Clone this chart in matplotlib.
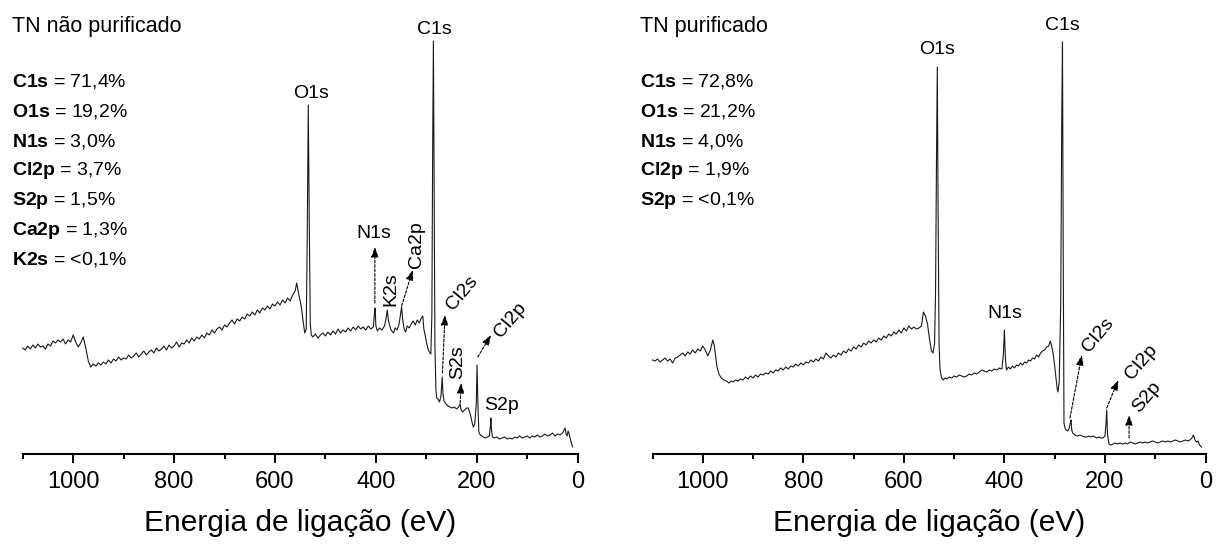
import matplotlib
matplotlib.use('Agg')
import matplotlib.pyplot as plt
from matplotlib.ticker import MultipleLocator

plt.rcParams['font.family'] = ['Liberation Sans', 'DejaVu Sans']
plt.rcParams['mathtext.fontset'] = 'custom'
plt.rcParams['mathtext.rm'] = 'Liberation Sans'
plt.rcParams['mathtext.bf'] = 'Liberation Sans:bold'

# ---------------- data (binding energy in eV, intensity in a.u.) ----------------
left_energy = [
    1100, 1095, 1090, 1085, 1080, 1075, 1070, 1065, 1060, 1055,
    1050, 1045, 1040, 1035, 1030, 1025, 1020, 1015, 1010, 1005,
    1000, 995, 990, 985, 980, 975, 970, 965, 960, 955,
    950, 945, 940, 935, 930, 925, 920, 915, 910, 905,
    900, 895, 890, 885, 880, 875, 870, 865, 860, 855,
    850, 845, 840, 835, 830, 825, 820, 815, 810, 805,
    800, 795, 790, 785, 780, 775, 770, 765, 760, 755,
    750, 745, 740, 735, 730, 725, 720, 715, 710, 705,
    700, 695, 690, 685, 680, 675, 670, 665, 660, 655,
    650, 645, 640, 635, 630, 625, 620, 615, 610, 605,
    600, 595, 590, 585, 580, 575, 570, 565, 560, 557,
    553, 548, 544, 541, 538, 536, 534, 532, 530, 528,
    525, 520, 515, 510, 505, 500, 495, 490, 485, 480,
    475, 470, 465, 460, 455, 450, 445, 440, 435, 430,
    425, 420, 415, 410, 405, 403, 401.5, 400, 397, 393,
    388, 383, 380, 377.5, 375, 370, 365, 362, 358, 354,
    351, 349, 347, 344, 341, 338, 334, 330, 326, 322,
    318, 314, 310, 307, 305, 302, 299, 296, 293, 291,
    289, 287.5, 286, 284.5, 283, 281, 279.5, 277, 274, 271,
    269.5, 268.5, 267, 265, 261, 257, 253, 249, 245, 240,
    236, 233, 231, 228, 224, 220, 217, 213, 210, 207,
    204, 201, 199.5, 198, 196, 193, 190, 187, 183, 179,
    175, 173, 172, 171, 169, 165, 160, 155, 150, 145,
    140, 135, 130, 125, 120, 115, 110, 105, 100, 95,
    90, 85, 80, 75, 70, 65, 60, 55, 50, 45,
    40, 35, 30, 27, 25, 23, 21, 19, 17, 14,
    12, 10,
]
left_intensity = [
    106, 104, 108, 105, 109, 106, 110, 107, 108, 105,
    110, 108, 113, 111, 114, 112, 115, 110, 114, 112,
    119, 112, 107, 111, 117, 106, 93, 87, 90, 88,
    91, 89, 92, 90, 94, 91, 95, 93, 97, 94,
    96, 95, 99, 96, 98, 101, 97, 100, 103, 99,
    102, 104, 101, 106, 103, 105, 108, 104, 109, 106,
    108, 112, 107, 111, 110, 114, 111, 116, 113, 117,
    115, 119, 116, 121, 119, 124, 121, 125, 127, 124,
    129, 127, 131, 134, 130, 135, 133, 137, 135, 140,
    138, 142, 139, 144, 141, 146, 144, 148, 145, 150,
    148, 152, 149, 154, 151, 156, 153, 159, 163, 171,
    160, 148, 132, 121, 125, 220, 349, 230, 130, 119,
    117, 120, 116, 119, 121, 118, 122, 119, 123, 120,
    125, 121, 124, 122, 126, 123, 127, 124, 128, 125,
    127, 124, 128, 125, 127, 140, 146, 128, 123, 126,
    124, 128, 135, 144, 133, 124, 121, 126, 124, 130,
    140, 147, 135, 125, 122, 128, 126, 130, 133, 129,
    134, 131, 136, 138, 125, 118, 110, 104, 101, 100,
    140, 300, 413, 250, 110, 64, 56, 55, 52, 58,
    70, 77, 60, 53, 50, 48, 47, 46, 47, 45,
    47, 50, 44, 42, 44, 46, 46, 40, 33, 27,
    30, 50, 89, 55, 22, 19, 18, 17, 16, 17,
    18, 28, 36, 25, 17, 16, 17, 15, 16, 17,
    15, 16, 15, 17, 16, 18, 16, 17, 18, 16,
    18, 17, 19, 17, 18, 20, 18, 19, 21, 18,
    20, 19, 21, 24, 26, 20, 18, 23, 20, 14,
    10, 7,
]

right_energy = [
    1100, 1095, 1090, 1085, 1080, 1075, 1070, 1065, 1060, 1055,
    1050, 1045, 1040, 1035, 1030, 1025, 1020, 1015, 1010, 1005,
    1000, 995, 990, 985, 980, 977, 972, 968, 963, 958,
    953, 948, 943, 940, 935, 930, 925, 920, 915, 910,
    905, 900, 895, 890, 885, 880, 875, 870, 865, 860,
    855, 850, 845, 840, 835, 830, 825, 820, 815, 810,
    805, 800, 795, 790, 785, 780, 775, 770, 765, 760,
    755, 750, 745, 740, 735, 730, 725, 720, 715, 710,
    705, 700, 695, 690, 685, 680, 675, 670, 665, 660,
    655, 650, 645, 640, 635, 630, 625, 620, 615, 610,
    605, 600, 595, 590, 585, 580, 575, 570, 565, 561,
    557, 553, 549, 545, 542, 539, 537, 535, 533.5, 532,
    530, 528, 525, 522, 518, 514, 510, 505, 500, 495,
    490, 485, 480, 475, 470, 465, 460, 455, 450, 445,
    440, 435, 430, 425, 420, 415, 410, 405, 402, 400,
    398, 396, 392, 388, 384, 380, 376, 372, 368, 364,
    360, 356, 352, 348, 344, 340, 336, 332, 328, 324,
    320, 316, 312, 309, 306, 303, 300, 297, 295, 293.5,
    291, 288, 286, 284.5, 283, 281.5, 279, 277, 274, 271,
    269, 267.5, 266, 264, 260, 255, 250, 245, 240, 236,
    232, 228, 224, 220, 216, 212, 208, 204, 200, 198,
    196.5, 195, 192, 188, 184, 180, 175, 170, 165, 160,
    155, 150, 145, 140, 135, 130, 125, 120, 115, 110,
    105, 100, 95, 90, 85, 80, 75, 70, 65, 60,
    55, 50, 45, 40, 35, 31, 27, 24, 21, 18,
    15, 12, 8,
]
right_intensity = [
    94, 93, 95, 92, 94, 96, 93, 95, 91, 96,
    97, 99, 101, 98, 102, 100, 104, 101, 105, 103,
    108, 104, 98, 104, 114, 108, 88, 80, 76, 74,
    73, 71, 73, 72, 74, 73, 75, 74, 77, 75,
    78, 76, 79, 77, 80, 79, 81, 80, 83, 81,
    84, 83, 86, 84, 87, 85, 88, 87, 90, 88,
    91, 89, 92, 91, 94, 92, 95, 93, 97, 95,
    101, 98, 96, 99, 97, 101, 99, 103, 101, 105,
    103, 107, 105, 109, 107, 111, 109, 113, 111, 114,
    112, 116, 114, 118, 116, 120, 118, 122, 120, 124,
    121, 126, 123, 128, 125, 127, 125, 126, 128, 142,
    138, 130, 115, 103, 101, 110, 160, 300, 387, 250,
    110, 84, 76, 74, 76, 75, 77, 76, 78, 77,
    79, 78, 77, 78, 80, 79, 81, 80, 82, 84,
    83, 82, 84, 83, 85, 84, 86, 85, 100, 124,
    95, 84, 87, 85, 88, 86, 89, 88, 91, 89,
    92, 91, 94, 93, 96, 95, 99, 97, 101, 103,
    104, 107, 108, 113, 108, 100, 88, 74, 65, 62,
    72, 150, 330, 412, 200, 31, 25, 24, 23, 26,
    31, 34, 24, 21, 19, 18, 19, 18, 17, 17,
    18, 17, 18, 17, 16, 17, 16, 16, 18, 30,
    44, 20, 10, 9, 10, 11, 10, 11, 10, 11,
    10, 12, 11, 10, 11, 12, 11, 12, 11, 12,
    13, 12, 11, 12, 13, 12, 13, 12, 13, 14,
    13, 12, 13, 14, 13, 14, 16, 19, 14, 12,
    13, 9, 7,
]
assert len(left_energy) == len(left_intensity)
assert len(right_energy) == len(right_intensity)

left_title = 'TN não purificado'
right_title = 'TN purificado'
left_elements = ['C1s', 'O1s', 'N1s', 'Cl2p', 'S2p', 'Ca2p', 'K2s']
left_percent = ['71,4%', '19,2%', '3,0%', '3,7%', '1,5%', '1,3%', '<0,1%']
right_elements = ['C1s', 'O1s', 'N1s', 'Cl2p', 'S2p']
right_percent = ['72,8%', '21,2%', '4,0%', '1,9%', '<0,1%']
xlabel = 'Energia de ligação (eV)'
tick_values = [1000, 800, 600, 400, 200, 0]

# peak labels: (text, label position (E, I), rotation, arrow start, arrow tip)
left_labels = [
    ('O1s', (528, 361), 0, None, None),
    ('C1s', (285, 424), 0, None, None),
    ('N1s', (405, 221), 0, (402, 151), (402, 207)),
    ('K2s', (370, 165), 90, None, None),
    ('Ca2p', (319, 209), 90, (349, 148), (327, 184)),
    ('Cl2s', (230, 161), 50, (268, 81), (263, 139)),
    ('S2s', (237, 92), 90, (233, 51), (231, 71)),
    ('Cl2p', (134, 134), 50, (198, 97), (172, 119)),
    ('S2p', (151, 48), 0, None, None),
]
right_labels = [
    ('O1s', (533, 404), 0, None, None),
    ('C1s', (285.5, 429), 0, None, None),
    ('N1s', (399, 141), 0, None, None),
    ('Cl2s', (213, 119), 50, (269.6, 36), (246, 99)),
    ('Cl2p', (127, 92), 50, (196.6, 46), (173.5, 74)),
    ('S2p', (117, 57), 50, (152, 16), (152, 39)),
]

# ---------------- figure ----------------
W, H = 1216, 547
fig = plt.figure(figsize=(W / 100, H / 100), dpi=100)


def px_axes(x0, x1, y0, y1):
    return fig.add_axes([x0 / W, 1 - y1 / H, (x1 - x0) / W, (y1 - y0) / H])


def style_axis(ax):
    ax.set_xlim(1100, 0)
    ax.set_ylim(0, 454)
    for s in ('left', 'right', 'top'):
        ax.spines[s].set_visible(False)
    ax.spines['bottom'].set_linewidth(1.5)
    ax.set_yticks([])
    ax.set_xticks(tick_values)
    ax.set_xticklabels([str(v) for v in tick_values])
    ax.xaxis.set_minor_locator(MultipleLocator(100))
    ax.tick_params(axis='x', which='major', direction='out', length=6.5,
                   width=1.4, labelsize=17, pad=6)
    ax.tick_params(axis='x', which='minor', direction='out', length=3.5,
                   width=1.4)
    ax.patch.set_visible(False)


def draw_labels(ax, labels):
    for text, pos, rot, start, tip in labels:
        ax.text(pos[0], pos[1], text, ha='center', va='center', rotation=rot,
                fontsize=14, rotation_mode='anchor')
        if start is not None:
            ax.annotate('', xy=tip, xytext=start,
                        arrowprops=dict(arrowstyle='-|>,head_length=0.6,head_width=0.22',
                                        lw=0.8, ls=(0, (2.5, 1.5)), color='black',
                                        shrinkA=0, shrinkB=0))


axL = px_axes(22.7, 577.7, 0, 454)
axR = px_axes(652.5, 1205.5, 0, 454)

for ax, E, I, labels in ((axL, left_energy, left_intensity, left_labels),
                         (axR, right_energy, right_intensity, right_labels)):
    style_axis(ax)
    ax.plot(E, I, color='#1a1a1a', lw=0.8, clip_on=False)
    draw_labels(ax, labels)


def fig_text(px, py, s, **kw):
    fig.text(px / W, 1 - py / H, s, **kw)


fig_text(300, 523, xlabel, ha='center', va='center', fontsize=21.5)
fig_text(929, 523, xlabel, ha='center', va='center', fontsize=21.5)

fig_text(11.7, 26.7, left_title, ha='left', va='center', fontsize=15.5)
fig_text(640, 26.7, right_title, ha='left', va='center', fontsize=15.5)

for x0, elems, pcts in ((11.7, left_elements, left_percent),
                        (640, right_elements, right_percent)):
    for i, (el, pc) in enumerate(zip(elems, pcts)):
        fig_text(x0, 81.7 + i * 29.7, r'$\mathbf{' + el + '}$ = ' + pc,
                 ha='left', va='center', fontsize=14)

fig.savefig('out.png', dpi=100)
